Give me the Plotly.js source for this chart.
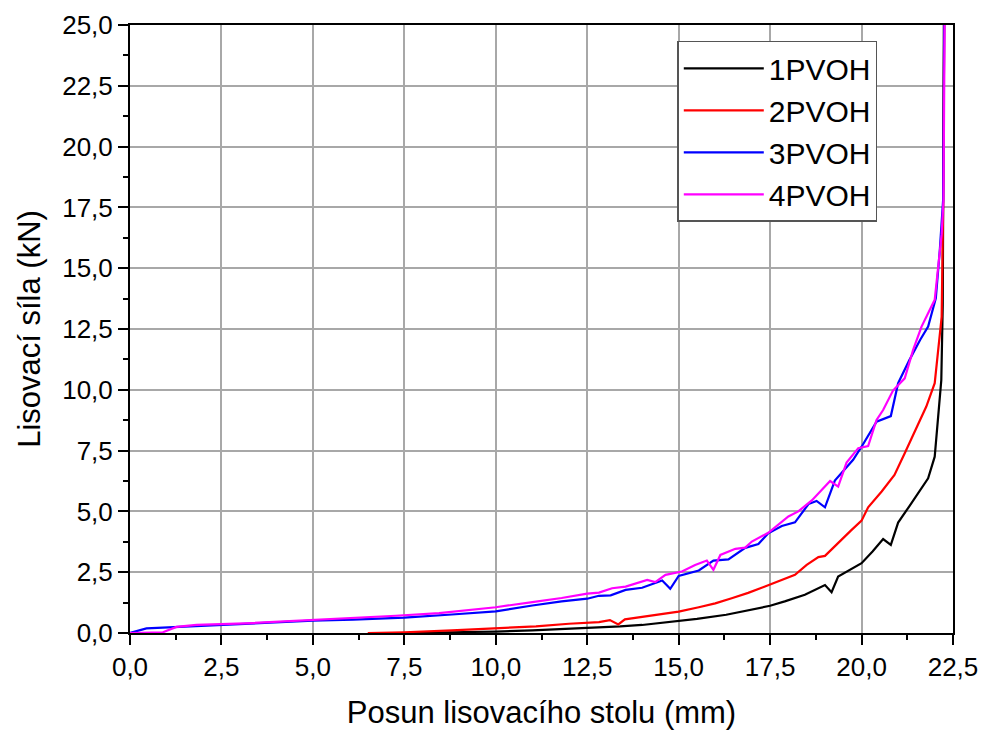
<!DOCTYPE html>
<html>
<head>
<meta charset="utf-8">
<script src="https://cdn.plot.ly/plotly-3.0.1.min.js"></script>
<style>html,body{margin:0;padding:0;background:#fff;}#chart{width:985px;height:733px;}</style>
</head>
<body>
<div id="chart"></div>
<script>
// Series names
const seriesNames = ['1PVOH', '2PVOH', '3PVOH', '4PVOH'];

// 1PVOH (black)
const x1 = [7.5, 8.8, 10.0, 11.0, 12.0, 12.8, 13.4, 14.0, 14.6, 15.0, 15.5, 16.3, 16.9, 17.5, 17.9, 18.45, 19.0, 19.18, 19.36, 19.7, 20.0, 20.3, 20.59, 20.8, 21.0, 21.3, 21.55, 21.82, 22.0, 22.1, 22.18, 22.22, 22.25];
const y1 = [0, 0.02, 0.06, 0.11, 0.17, 0.23, 0.27, 0.33, 0.43, 0.47, 0.58, 0.75, 0.92, 1.12, 1.3, 1.57, 1.97, 1.68, 2.32, 2.6, 2.87, 3.35, 3.86, 3.62, 4.54, 5.2, 5.75, 6.36, 7.25, 8.9, 10.4, 13.5, 25.0];

// 2PVOH (red)
const x2 = [6.5, 7.5, 8.8, 10.0, 11.1, 12.0, 12.5, 12.82, 13.12, 13.35, 13.53, 14.36, 15.0, 15.55, 16.0, 16.45, 16.9, 17.36, 17.8, 18.18, 18.5, 18.82, 19.0, 19.36, 19.7, 20.0, 20.18, 20.55, 20.9, 21.18, 21.5, 21.77, 22.0, 22.1, 22.19, 22.23, 22.26];
const y2 = [0, 0.03, 0.11, 0.19, 0.27, 0.38, 0.41, 0.45, 0.53, 0.35, 0.56, 0.75, 0.88, 1.06, 1.22, 1.43, 1.65, 1.91, 2.15, 2.39, 2.8, 3.12, 3.17, 3.72, 4.2, 4.62, 5.17, 5.82, 6.5, 7.39, 8.4, 9.31, 10.27, 11.6, 13.0, 17.5, 25.0];

// 3PVOH (blue)
const x3 = [0, 0.45, 0.9, 2.0, 3.36, 5.0, 6.1, 6.9, 7.5, 8.8, 10.0, 11.0, 11.8, 12.5, 12.82, 13.14, 13.55, 14.0, 14.55, 14.77, 15.0, 15.55, 15.95, 16.36, 16.82, 17.18, 17.45, 17.82, 18.18, 18.55, 18.77, 19.0, 19.27, 19.77, 20.0, 20.41, 20.8, 21.0, 21.3, 21.6, 21.82, 22.03, 22.14, 22.23, 22.26];
const y3 = [0, 0.19, 0.22, 0.3, 0.41, 0.51, 0.55, 0.58, 0.63, 0.76, 0.89, 1.13, 1.3, 1.41, 1.53, 1.55, 1.77, 1.86, 2.16, 1.82, 2.35, 2.57, 2.98, 3.03, 3.5, 3.66, 4.1, 4.4, 4.55, 5.3, 5.43, 5.17, 6.27, 7.12, 7.66, 8.69, 8.92, 10.27, 11.2, 12.05, 12.6, 13.76, 15.75, 17.8, 25.0];

// 4PVOH (magenta)
const x4 = [0, 0.9, 1.27, 1.82, 3.36, 5.0, 6.1, 7.27, 8.45, 10.0, 11.0, 11.8, 12.5, 12.82, 13.18, 13.55, 14.14, 14.36, 14.64, 15.09, 15.45, 15.77, 15.95, 16.14, 16.55, 16.82, 17.0, 17.45, 18.0, 18.27, 18.64, 19.14, 19.36, 19.59, 19.91, 20.18, 20.41, 20.59, 20.86, 21.18, 21.41, 21.64, 22.0, 22.19, 22.24, 22.27];
const y4 = [0, 0.03, 0.25, 0.33, 0.41, 0.54, 0.6, 0.71, 0.82, 1.06, 1.27, 1.44, 1.62, 1.66, 1.84, 1.91, 2.18, 2.09, 2.39, 2.53, 2.8, 2.98, 2.6, 3.21, 3.46, 3.51, 3.76, 4.12, 4.79, 5.0, 5.45, 6.25, 6.02, 7.01, 7.6, 7.69, 8.76, 9.17, 9.97, 10.47, 11.64, 12.6, 13.7, 16.4, 17.8, 25.0];

const colors = ['#000000', '#ff0000', '#0000ff', '#ff00ff'];
const xs = [x1, x2, x3, x4];
const ys = [y1, y2, y3, y4];

const FONT = '"Liberation Sans", Arial, sans-serif';

const traces = seriesNames.map((name, i) => ({
  type: 'scatter',
  mode: 'lines',
  name: name,
  x: xs[i],
  y: ys[i],
  line: {color: colors[i], width: 2.2},
  hoverinfo: 'x+y+name'
}));

const axisCommon = {
  showline: true,
  linecolor: '#000',
  linewidth: 2,
  mirror: true,
  ticks: 'outside',
  ticklen: 10,
  tickwidth: 2,
  tickcolor: '#000',
  showgrid: true,
  gridcolor: '#a8a8a8',
  gridwidth: 1.5,
  zeroline: false,
  tickformat: '.1f',
  tickfont: {family: FONT, size: 26, color: '#000'},
  minor: {dtick: 1.25, ticks: 'outside', ticklen: 5, tickwidth: 2, tickcolor: '#000', showgrid: false}
};

const layout = {
  width: 985,
  height: 733,
  margin: {l: 130, r: 32, t: 25, b: 100},
  paper_bgcolor: '#ffffff',
  plot_bgcolor: '#ffffff',
  separators: ',.',
  font: {family: FONT, color: '#000'},
  showlegend: true,
  xaxis: Object.assign({}, axisCommon, {
    range: [0, 22.5],
    tick0: 0,
    dtick: 2.5,
    title: {text: 'Posun lisovacího stolu (mm)', font: {family: FONT, size: 31, color: '#000'}, standoff: 20}
  }),
  yaxis: Object.assign({}, axisCommon, {
    range: [0, 25],
    tick0: 0,
    dtick: 2.5,
    title: {text: 'Lisovací síla (kN)', font: {family: FONT, size: 31, color: '#000'}, standoff: 12}
  }),
  legend: {
    x: 0.665,
    y: 0.974,
    xanchor: 'left',
    yanchor: 'top',
    bgcolor: '#ffffff',
    bordercolor: '#555555',
    borderwidth: 1.5,
    font: {family: FONT, size: 30, color: '#000'},
    itemwidth: 80,
    tracegroupgap: 0
  }
};

Plotly.newPlot('chart', traces, layout, {displayModeBar: false});
</script>
</body>
</html>
